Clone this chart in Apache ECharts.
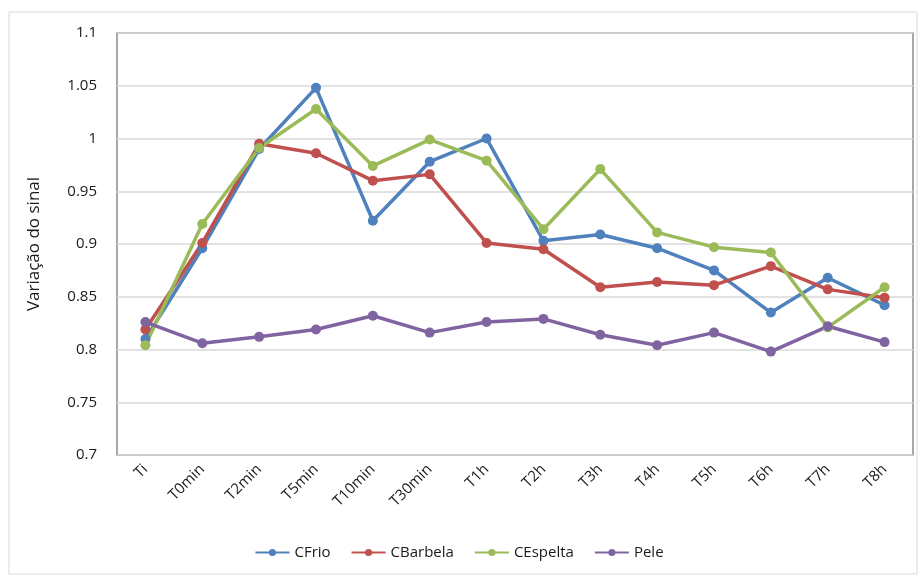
<!DOCTYPE html>
<html>
<head>
<meta charset="utf-8">
<script src="https://cdn.jsdelivr.net/npm/echarts@6/dist/echarts.min.js"></script>
<style>
  html, body { margin: 0; padding: 0; background: #fff; }
  #chart { width: 918px; height: 575px; }
</style>
</head>
<body>
<div id="chart"></div>
<script>
// Time points of the measurement
const categories = ['Ti', 'T0min', 'T2min', 'T5min', 'T10min', 'T30min', 'T1h', 'T2h', 'T3h', 'T4h', 'T5h', 'T6h', 'T7h', 'T8h'];

// Signal variation per sample
const cFrio     = [0.810, 0.896, 0.990, 1.048, 0.922, 0.978, 1.000, 0.903, 0.909, 0.896, 0.875, 0.835, 0.868, 0.842];
const cBarbela  = [0.819, 0.901, 0.995, 0.986, 0.960, 0.966, 0.901, 0.895, 0.859, 0.864, 0.861, 0.879, 0.857, 0.849];
const cEspelta  = [0.804, 0.919, 0.991, 1.028, 0.974, 0.999, 0.979, 0.914, 0.971, 0.911, 0.897, 0.892, 0.821, 0.859];
const pele      = [0.826, 0.806, 0.812, 0.819, 0.832, 0.816, 0.826, 0.829, 0.814, 0.804, 0.816, 0.798, 0.822, 0.807];

const seriesNames = ['CFrio', 'CBarbela', 'CEspelta', 'Pele'];
const seriesColors = ['#4F81BD', '#C0504D', '#9BBB59', '#8064A2'];
const seriesData = [cFrio, cBarbela, cEspelta, pele];

const FONT = '"Open Sans", "Noto Sans", sans-serif';

const chart = echarts.init(document.getElementById('chart'));
chart.setOption({
  animation: false,
  color: seriesColors,
  graphic: [{
    type: 'rect',
    shape: { x: 9, y: 12, width: 908, height: 562 },
    style: { fill: 'none', stroke: '#d9d9d9', lineWidth: 1 },
    silent: true,
    z: -1
  }],
  grid: {
    left: 117, right: 5, top: 33, bottom: 120,
    show: true,
    borderColor: '#8c8c8c',
    borderWidth: 1.5
  },
  legend: {
    bottom: 10,
    left: 'center',
    itemWidth: 34,
    itemHeight: 9,
    itemGap: 20,
    textStyle: { fontFamily: FONT, fontSize: 15, color: '#1a1a1a' },
    data: seriesNames
  },
  xAxis: {
    type: 'category',
    data: categories,
    boundaryGap: true,
    axisLine: { show: false },
    axisTick: { show: false },
    axisLabel: {
      rotate: 45,
      margin: 12,
      fontFamily: FONT,
      fontSize: 15,
      color: '#1a1a1a',
      interval: 0
    }
  },
  yAxis: {
    type: 'value',
    min: 0.7,
    max: 1.1,
    interval: 0.05,
    name: 'Variação do sinal',
    nameLocation: 'middle',
    nameGap: 74,
    nameTextStyle: { fontFamily: FONT, fontSize: 17, color: '#1a1a1a' },
    axisLine: { show: false },
    axisTick: { show: false },
    axisLabel: {
      margin: 20,
      fontFamily: FONT,
      fontSize: 15,
      color: '#1a1a1a',
      formatter: v => String(Math.round(v * 100) / 100)
    },
    splitLine: { lineStyle: { color: '#d9d9d9', width: 1.5 } }
  },
  series: seriesData.map((d, i) => ({
    name: seriesNames[i],
    type: 'line',
    data: d,
    symbol: 'circle',
    symbolSize: 10,
    lineStyle: { width: 3.5, color: seriesColors[i] },
    itemStyle: { color: seriesColors[i] }
  }))
});
</script>
</body>
</html>
